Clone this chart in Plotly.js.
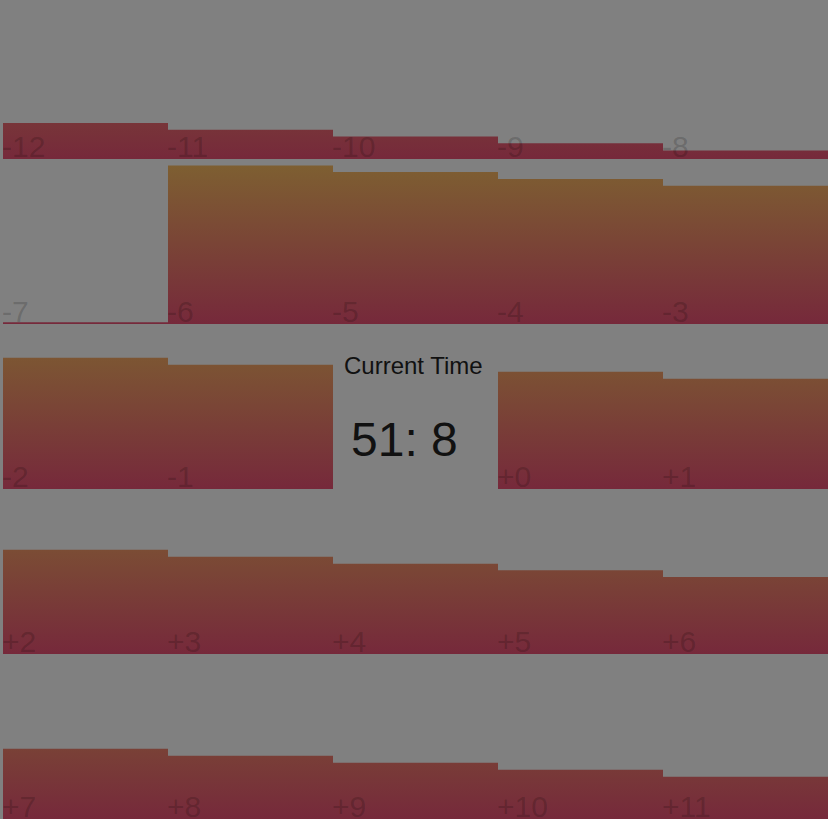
<!DOCTYPE html>
<html>
<head>
<meta charset="utf-8">
<script src="https://cdn.plot.ly/plotly-3.0.1.min.js"></script>
<style>
  html, body { margin: 0; padding: 0; background: #808080; overflow: hidden; }
  #clock-grid { width: 828px; height: 819px; }
</style>
</head>
<body>
<div id="clock-grid"></div>
<script>
// offsets shown in each cell, left to right, top to bottom ('' = the centre cell)
const offsetLabels = ['-12', '-11', '-10', '-9', '-8',
                      '-7', '-6', '-5', '-4', '-3',
                      '-2', '-1', '', '+0', '+1',
                      '+2', '+3', '+4', '+5', '+6',
                      '+7', '+8', '+9', '+10', '+11'];
// fill level of each cell, percent of the cell height
const fillPct = [21.8, 17.8, 13.7, 9.5, 5.2,
                 1.0, 96.1, 92.1, 87.9, 83.8,
                 79.6, 75.3, null, 71.1, 66.8,
                 63.2, 59.0, 54.7, 50.7, 46.7,
                 42.6, 38.4, 34.1, 29.9, 25.6];
const centreTitle = 'Current Time';
const centreTime = '51: 8';

const COLS = 5, ROWS = 5;
const traces = [];
const annotations = [];

offsetLabels.forEach(function(lbl, i) {
    const col = i % COLS;
    const base = ROWS - 1 - Math.floor(i / COLS);   // bottom of the cell in axis units
    if (fillPct[i] === null) return;
    const top = base + fillPct[i] / 100;
    traces.push({
        x: [col, col, col + 1, col + 1, col],
        y: [base, top, top, base, base],
        type: 'scatter', mode: 'lines', fill: 'toself',
        line: { width: 0 },
        fillgradient: {
            type: 'vertical',
            colorscale: [[0, '#76293b'], [1, '#7e6131']],
            start: base, stop: base + 1
        },
        hoverinfo: 'skip', showlegend: false
    });
    annotations.push({
        x: col, y: base, xref: 'x', yref: 'y',
        text: lbl, showarrow: false,
        xanchor: 'left', yanchor: 'bottom',
        xshift: -3, yshift: -6,
        font: { family: 'Liberation Sans, Arial, sans-serif', size: 30, color: 'rgba(0,0,0,0.18)' }
    });
});

// centre cell text
annotations.push({
    x: 2.5, y: 2.75, xref: 'x', yref: 'y', text: centreTitle, showarrow: false, xshift: -2,
    font: { family: 'Liberation Sans, Arial, sans-serif', size: 24, color: '#111' }
});
annotations.push({
    x: 2.5, y: 2.3, xref: 'x', yref: 'y', text: centreTime, showarrow: false, xshift: -11,
    font: { family: 'Liberation Sans, Arial, sans-serif', size: 48, color: '#111' }
});

const layout = {
    width: 828, height: 819,
    margin: { l: 3, r: 0, t: 0, b: 0, pad: 0 },
    paper_bgcolor: '#808080', plot_bgcolor: '#808080',
    xaxis: { range: [0, COLS], visible: false, fixedrange: true },
    yaxis: { range: [0, 819 / 165], visible: false, fixedrange: true },
    annotations: annotations,
    showlegend: false
};

Plotly.newPlot('clock-grid', traces, layout, { displayModeBar: false, staticPlot: true });
</script>
</body>
</html>
